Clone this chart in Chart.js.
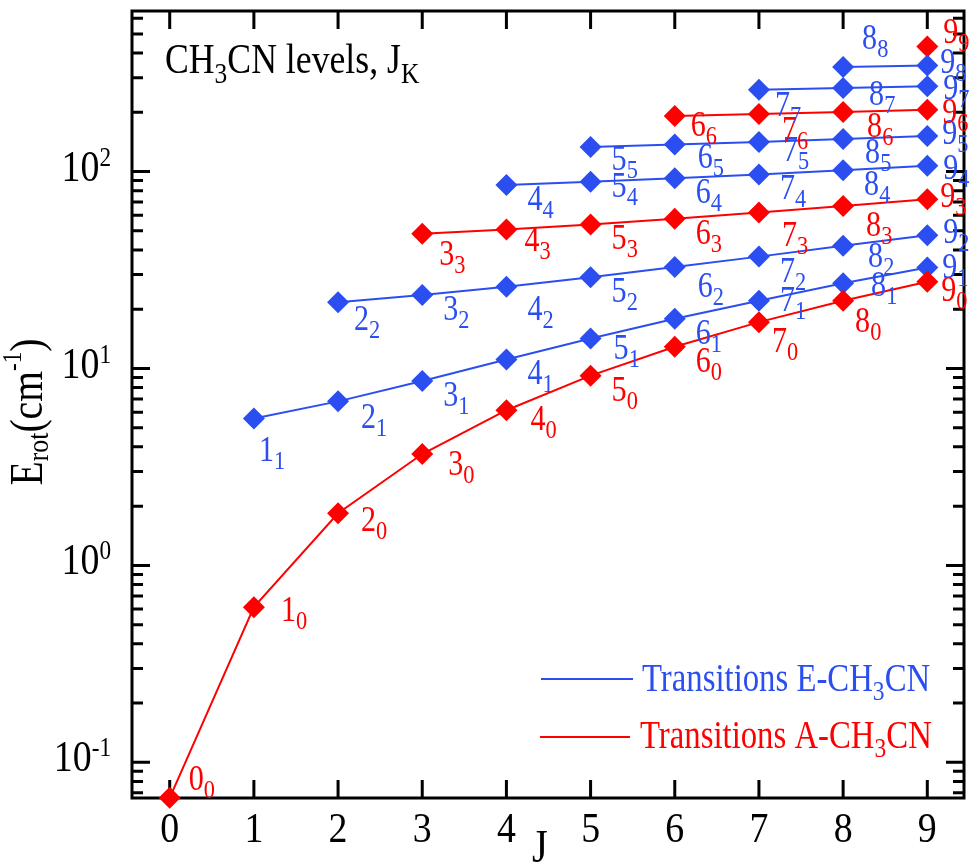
<!DOCTYPE html>
<html><head><meta charset="utf-8">
<script src="https://cdn.jsdelivr.net/npm/chart.js@4"></script>
<style>html,body{margin:0;padding:0;background:#fff}</style>
</head><body>
<canvas id="c" width="975" height="867"></canvas>
<script>
// Rotational energy levels E_rot (cm^-1) of CH3CN, J_K ; each array starts at J = K
const jValues = [0,1,2,3,4,5,6,7,8,9];
const levelsK0 = [0.066, 0.614, 1.84, 3.68, 6.14, 9.20, 12.9, 17.2, 22.1, 27.6];
const levelsK1 = [5.58, 6.81, 8.65, 11.1, 14.2, 17.9, 22.1, 27.1, 32.6];
const levelsK2 = [21.7, 23.6, 26.0, 29.1, 32.8, 37.0, 42.0, 47.5];
const levelsK3 = [48.4, 50.8, 53.9, 57.6, 61.9, 66.8, 72.3];
const levelsK4 = [85.6, 88.7, 92.4, 96.7, 101.6, 107.1];
const levelsK5 = [133.4, 137.1, 141.4, 146.3, 151.8];
const levelsK6 = [191.7, 196.0, 200.9, 206.4];
const levelsK7 = [260.6, 265.5, 271.0];
const levelsK8 = [340.0, 345.5];
const levelsK9 = [432];
const kLadders = [levelsK0, levelsK1, levelsK2, levelsK3, levelsK4, levelsK5, levelsK6, levelsK7, levelsK8, levelsK9];
const kSpecies = ['A','E','E','A','E','E','A','E','E','A'];
const yDecades = [-1, 0, 1, 2];
const legendLabels = {E: 'Transitions E-CH', A: 'Transitions A-CH'};

const BLUE = '#2A4EF0', RED = '#FF0000';
const FONT = '"Liberation Serif", "Times New Roman", serif';

// label nudges [dx, dtop] relative to the marker centre
const labelNudge = {
  '0_0':[19,-31], '1_0':[27,-9], '2_0':[23,-5], '3_0':[26,-2], '4_0':[24,-3], '7_0':[13,7], '8_0':[12,8], '9_0':[14,-4],
  '1_1':[5,20], '2_1':[23,4], '4_1':[21,1], '5_1':[23,-3], '7_1':[21,-13], '8_1':[28,-10],
  '2_2':[16,5], '4_2':[21,10], '6_2':[23,7], '8_2':[25,-2],
  '3_3':[17,8], '4_3':[18,-2], '7_3':[23,10], '8_3':[23,7],
  '5_4':[21,-8],
  '5_5':[21,0], '6_5':[23,0], '7_5':[24,-4], '8_5':[22,1],
  '6_6':[16,-3], '7_6':[23,4], '8_6':[24,2],
  '7_7':[16,3], '8_7':[26,-6],
  '8_8':[19,-41],
  '9_9':[16,-26], '9_8':[13,-16], '9_7':[16,-10], '9_6':[15,-10], '9_5':[15,-15], '9_4':[16,-10], '9_3':[13,-15], '9_2':[16,-15], '9_1':[15,-12]
};

function rich(ctx, segs, x, y, sx, align) {
  let total = 0;
  segs.forEach(s => { ctx.font = s[1] + 'px ' + FONT; total += ctx.measureText(s[0]).width * sx; });
  let cx = x;
  if (align === 'right') cx = x - total; else if (align === 'center') cx = x - total / 2;
  segs.forEach(s => {
    ctx.save();
    ctx.font = s[1] + 'px ' + FONT;
    ctx.textBaseline = 'alphabetic'; ctx.textAlign = 'left';
    const w = ctx.measureText(s[0]).width * sx;
    ctx.translate(cx, y + (s[2] || 0)); ctx.scale(sx, 1);
    ctx.fillText(s[0], 0, 0);
    ctx.restore();
    cx += w;
  });
  return total;
}

const datasets = kLadders.map((arr, K) => {
  const col = kSpecies[K] === 'E' ? BLUE : RED;
  return {
    label: 'K=' + K,
    data: arr.map((v, i) => ({x: jValues[K + i], y: v})),
    borderColor: col, backgroundColor: col,
    borderWidth: 2, pointStyle: 'rectRot', pointRadius: 11, pointHoverRadius: 11,
    pointBorderWidth: 0, showLine: true, tension: 0, clip: false
  };
});

const framePlugin = {
  id: 'frame',
  beforeDatasetsDraw(chart) {
    const {ctx, chartArea: a, scales: {x, y}} = chart;
    ctx.save();
    ctx.strokeStyle = '#000'; ctx.lineWidth = 3;
    ctx.strokeRect(a.left, a.top, a.right - a.left, a.bottom - a.top);
    ctx.beginPath();
    jValues.forEach(v => {
      const px = x.getPixelForValue(v);
      ctx.moveTo(px, a.bottom); ctx.lineTo(px, a.bottom - 18);
      ctx.moveTo(px, a.top); ctx.lineTo(px, a.top + 18);
    });
    for (let e = -2; e <= 3; e++) {
      for (let m = 1; m <= 9; m++) {
        const v = m * Math.pow(10, e);
        if (v < y.min || v > y.max) continue;
        const py = y.getPixelForValue(v);
        const len = m === 1 ? 18 : 11;
        ctx.moveTo(a.left, py); ctx.lineTo(a.left + len, py);
        ctx.moveTo(a.right, py); ctx.lineTo(a.right - len, py);
      }
    }
    ctx.stroke();
    ctx.restore();
  },
  afterDatasetsDraw(chart) {
    const {ctx, scales: {x, y}} = chart;
    ctx.save();
    ctx.fillStyle = '#000';
    jValues.forEach(v => rich(ctx, [[String(v), 43, 0]], x.getPixelForValue(v), 842, 0.88, 'center'));
    yDecades.forEach(e => {
      const py = y.getPixelForValue(Math.pow(10, e));
      rich(ctx, [['10', 44, 0], [String(e), 27, -15]], 111, py + 9, 0.86, 'right');
    });
    rich(ctx, [['J', 46, 0]], 540, 862, 0.88, 'center');
    ctx.save();
    ctx.translate(42, 412); ctx.rotate(-Math.PI / 2);
    rich(ctx, [['E', 46, 0], ['rot', 30, 6], ['(cm', 46, 0], ['-1', 27, -21], [')', 46, 0]], 0, 0, 0.86, 'center');
    ctx.restore();
    rich(ctx, [['CH', 42, 0], ['3', 30, 10], ['CN levels, J', 42, 0], ['K', 30, 10]], 165, 73, 0.85, 'left');
    ctx.lineWidth = 1.8;
    ctx.strokeStyle = BLUE; ctx.beginPath(); ctx.moveTo(541, 679); ctx.lineTo(633, 679); ctx.stroke();
    ctx.fillStyle = BLUE;
    rich(ctx, [[legendLabels.E, 39, 0], ['3', 28, 9], ['CN', 39, 0]], 642, 691, 0.84, 'left');
    ctx.strokeStyle = RED; ctx.beginPath(); ctx.moveTo(540, 737); ctx.lineTo(630, 737); ctx.stroke();
    ctx.fillStyle = RED;
    rich(ctx, [[legendLabels.A, 39, 0], ['3', 28, 9], ['CN', 39, 0]], 640, 748, 0.84, 'left');
    chart.data.datasets.forEach((ds, K) => {
      const meta = chart.getDatasetMeta(K);
      ctx.fillStyle = ds.borderColor;
      meta.data.forEach((pt, i) => {
        const Jv = ds.data[i].x;
        const n = labelNudge[Jv + '_' + K] || [21, 2];
        rich(ctx, [[String(Jv), 35, 0], [String(K), 26, 8]], pt.x + n[0], pt.y + n[1] + 23, 0.86, 'left');
      });
    });
    ctx.restore();
  }
};

new Chart(document.getElementById('c'), {
  type: 'scatter',
  data: {datasets},
  options: {
    responsive: false, animation: false, devicePixelRatio: 1,
    layout: {padding: {left: 0, right: 5, top: 4, bottom: 0}},
    plugins: {legend: {display: false}, tooltip: {enabled: false}},
    events: [],
    scales: {
      x: {type: 'linear', min: -0.448, max: 9.436,
          grid: {display: false}, border: {display: false}, ticks: {display: false},
          afterFit: s => { s.height = 69; }},
      y: {type: 'logarithmic', min: 0.0659, max: 654,
          grid: {display: false}, border: {display: false}, ticks: {display: false},
          afterFit: s => { s.width = 132; }}
    }
  },
  plugins: [framePlugin]
});
</script>
</body></html>
